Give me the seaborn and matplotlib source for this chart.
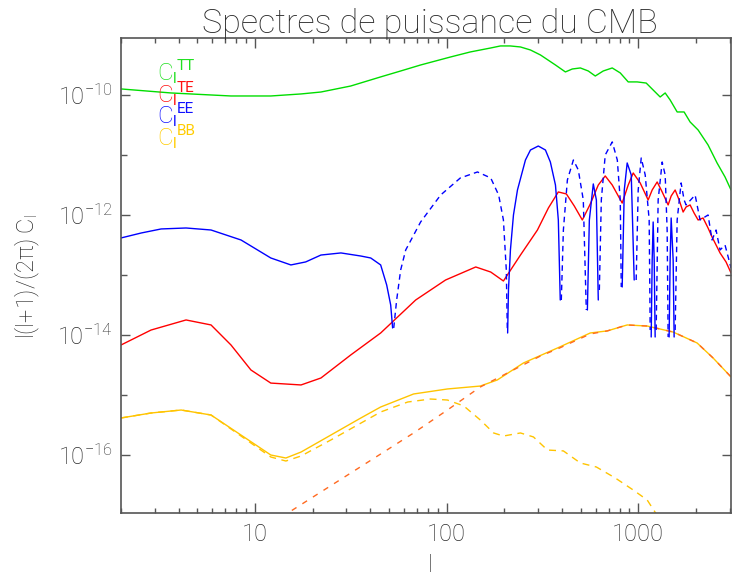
import numpy as np
import pandas as pd
import matplotlib
matplotlib.use("Agg")
import matplotlib.pyplot as plt
import seaborn as sns
from matplotlib.ticker import FixedLocator, FixedFormatter, NullFormatter

# ---------------- data ----------------
tt_l = [2, 3.65, 7.5, 12.1, 17.4, 22.1, 31.6, 45.3, 57.6, 73.2, 105, 133, 170, 191,
        215, 243, 274, 309, 370, 417, 453, 499, 549, 597, 657, 732, 806, 887, 988,
        1101, 1197, 1302, 1383, 1468, 1597, 1736, 1866, 2054, 2315, 2580, 2839, 3051]
tt_v = [1.26e-10, 1.08e-10, 9.62e-11, 9.62e-11, 1.04e-10, 1.12e-10, 1.41e-10, 2.0e-10,
        2.51e-10, 3.16e-10, 4.3e-10, 5.21e-10, 6.07e-10, 6.56e-10, 6.56e-10, 6.31e-10,
        5.62e-10, 4.64e-10, 3.16e-10, 2.42e-10, 2.71e-10, 2.82e-10, 2.51e-10, 2.07e-10,
        2.51e-10, 2.82e-10, 2.33e-10, 1.65e-10, 1.65e-10, 1.58e-10, 1.21e-10, 9.26e-11,
        1.08e-10, 8.25e-11, 5.21e-11, 5.21e-11, 3.55e-11, 2.61e-11, 1.47e-11, 7.36e-12,
        4.3e-12, 2.61e-12]

te_l = [2, 2.87, 4.37, 5.9, 7.5, 9.53, 12.1, 17.4, 22.1, 31.6, 45.3, 69.0, 98.8, 142,
        170, 198, 243, 298, 340, 383, 422, 464, 511, 562, 619, 673, 732, 825, 887, 942,
        1024, 1127, 1183, 1256, 1334, 1433, 1486, 1559, 1635, 1716, 1778, 1866, 1957,
        2054, 2181, 2315, 2429, 2674, 2873, 3051]
te_v = [6.81e-15, 1.21e-14, 1.78e-14, 1.47e-14, 6.81e-15, 2.61e-15, 1.58e-15, 1.47e-15,
        1.92e-15, 4.64e-15, 1.08e-14, 3.83e-14, 8.25e-14, 1.36e-13, 1.12e-13, 7.94e-14,
        2.15e-13, 5.62e-13, 1.31e-12, 2.42e-12, 2.24e-12, 1.41e-12, 8.25e-13, 1.52e-12,
        3.16e-12, 4.47e-12, 3.16e-12, 1.58e-12, 3.16e-12, 5.01e-12, 3.42e-12, 1.78e-12,
        2.61e-12, 3.55e-12, 2.42e-12, 1.47e-12, 2.07e-12, 2.61e-12, 1.78e-12, 1.12e-12,
        1.36e-12, 1.47e-12, 1.08e-12, 8.25e-13, 8.91e-13, 6.07e-13, 4.3e-13, 2.33e-13,
        1.65e-13, 1.08e-13]

# EE: signed values (negative parts are drawn dashed, as |value|)
ee_l = [2, 2.55, 3.24, 4.37, 5.9, 8.46, 12.1, 15.4, 18.4, 22.1, 28.1, 35.7, 40.2, 45.3, 48.7, 51.1, 52.3,
        53.0, 54.9, 57.6, 61.2, 73.2, 93.1, 118, 145, 170, 187, 198, 205, 207.5,
        208.3, 210.4, 215.4, 223.4, 234.4, 258, 274, 301, 328, 348, 370, 383, 392,
        397, 407, 427, 459, 487, 517, 536,
        543, 556, 583, 605, 619,
        627, 642, 673, 732, 778, 806, 816,
        825, 846, 876, 920, 953,
        976, 1000, 1037, 1088, 1141, 1155,
        1169, 1183, 1197, 1212, 1226,
        1241, 1271, 1334, 1383, 1416, 1433,
        1450, 1468, 1486, 1522, 1540,
        1559, 1597, 1675, 1736, 1778, 1982, 2103, 2315, 2429, 2549, 2674, 2839, 3051]
ee_v = [4.14e-13, 5.01e-13, 5.85e-13, 6.07e-13, 5.62e-13, 3.83e-13, 1.92e-13, 1.47e-13, 1.65e-13,
        2.15e-13, 2.33e-13, 2.07e-13, 1.92e-13, 1.47e-13, 6.81e-14, 3.16e-14, 1.31e-14,
        -1.31e-14, -3.83e-14, -1.21e-13, -2.61e-13, -7.64e-13, -2.15e-12, -4.14e-12, -5.21e-12,
        -4.14e-12, -2.15e-12, -8.25e-13, -1.21e-13, -1.21e-14,
        1.08e-14, 5.62e-14, 2.61e-13, 1.0e-12, 2.61e-12, 8.25e-12, 1.21e-11, 1.41e-11, 1.21e-11,
        7.64e-12, 3.16e-12, 8.25e-13, 3.83e-14,
        -3.83e-14, -5.62e-13, -3.83e-12, -8.25e-12, -5.62e-12, -1.78e-12, -2.61e-14,
        2.61e-14, 8.25e-13, 3.29e-12, 1.78e-12, 3.83e-14,
        -5.62e-14, -1.78e-12, -1.0e-11, -1.65e-11, -8.25e-12, -1.78e-12, -6.31e-14,
        6.31e-14, 2.61e-12, 7.36e-12, 4.64e-12, 8.25e-14,
        -8.25e-14, -2.61e-12, -8.91e-12, -4.64e-12, -8.25e-13, -1.21e-14,
        9.26e-15, 1.78e-13, 7.64e-13, 1.78e-13, 9.26e-15,
        -1.21e-14, -1.78e-12, -7.64e-12, -4.64e-12, -5.62e-13, -9.26e-15,
        9.26e-15, 1.78e-13, 8.91e-13, 1.78e-13, 9.26e-15,
        -1.21e-14, -8.25e-13, -3.42e-12, -1.78e-12, -1.47e-12, -2.15e-12, -8.25e-13, -1.0e-12,
        -3.83e-13, -5.62e-13, -2.61e-13, -3.16e-13, -1.31e-13]

bb_tot_l = [2, 2.87, 4.12, 5.9, 8.46, 12.1, 14.5, 17.4, 24.9, 35.7, 45.3, 67.3, 101, 150,
            184, 252, 379, 562, 690, 876, 1114, 1522, 2030, 2459, 3051]
bb_tot_v = [4.14e-16, 5.01e-16, 5.62e-16, 4.64e-16, 2.15e-16, 1.0e-16, 8.91e-17, 1.12e-16,
            2.15e-16, 4.14e-16, 6.31e-16, 1.04e-15, 1.26e-15, 1.41e-15, 1.78e-15, 3.42e-15,
            6.07e-15, 1.08e-14, 1.17e-14, 1.47e-14, 1.41e-14, 1.12e-14, 7.36e-15, 4.14e-15,
            2.0e-15]

bb_prim_l = [2, 2.87, 4.12, 5.9, 8.46, 12.1, 14.5, 17.4, 24.9, 45.3, 62.7, 82.5, 101, 123,
             150, 176, 198, 243, 284, 336, 407, 499, 605, 759, 942, 1114, 1302]
bb_prim_v = [4.14e-16, 5.01e-16, 5.62e-16, 4.64e-16, 2.07e-16, 9.26e-17, 7.94e-17, 9.62e-17,
             1.78e-16, 5.21e-16, 7.64e-16, 8.57e-16, 8.25e-16, 6.56e-16, 3.83e-16, 2.33e-16,
             2.07e-16, 2.33e-16, 2.0e-16, 1.21e-16, 1.17e-16, 7.36e-17, 6.31e-17, 4.14e-17,
             2.61e-17, 1.78e-17, 8.25e-18]

bb_lens_l = [12.1, 14.85, 47.0, 67.3, 101, 150, 223, 309, 379, 562, 690, 876, 1114, 1522,
             2030, 2459, 3051]
bb_lens_v = [7.08e-18, 1.08e-17, 1.12e-16, 2.33e-16, 5.62e-16, 1.36e-15, 2.61e-15, 4.47e-15,
             5.85e-15, 1.04e-14, 1.17e-14, 1.47e-14, 1.41e-14, 1.12e-14, 7.36e-15, 4.14e-15,
             2.0e-15]

x_major = [10, 100, 1000]
x_major_labels = ["10", "100", "1000"]
x_minor = [2, 3, 4, 5, 6, 7, 8, 9, 20, 30, 40, 50, 60, 70, 80, 90,
           200, 300, 400, 500, 600, 700, 800, 900, 2000, 3000]
y_major = [1e-16, 1e-14, 1e-12, 1e-10]
y_major_labels = [r"$10^{-16}$", r"$10^{-14}$", r"$10^{-12}$", r"$10^{-10}$"]
y_minor = [1e-15, 1e-13, 1e-11]

title = "Spectres de puissance du CMB"
xlabel = "l"
ylabel = r"l(l+1)/(2π) C$_\mathregular{l}$"
legend_names = ["TT", "TE", "EE", "BB"]
legend_colors = ["#22e022", "#ff1010", "#1010ff", "#ffcc00"]

# ---------------- style ----------------
sns.set_theme(style="ticks")
FONT = "Roboto"
plt.rcParams["font.family"] = [FONT, "DejaVu Sans"]
plt.rcParams["font.weight"] = "light"
plt.rcParams["mathtext.fontset"] = "custom"
plt.rcParams["mathtext.rm"] = FONT + ":light"
plt.rcParams["mathtext.it"] = FONT + ":light"
plt.rcParams["mathtext.bf"] = FONT + ":bold"
plt.rcParams["mathtext.sf"] = FONT + ":light"
plt.rcParams["mathtext.default"] = "regular"
TXT = "#2a2a2a"
AX = "#555555"

W, H = 732, 578
fig = plt.figure(figsize=(W / 100, H / 100), dpi=100)
fig.patch.set_facecolor("white")
L, R, T, B = 121, 731, 38, 513
ax = fig.add_axes([L / W, 1 - B / H, (R - L) / W, (B - T) / H])
ax.set_facecolor("white")
ax.set_xscale("log")
ax.set_yscale("log")

lw = 1.0
tt = pd.DataFrame({"l": tt_l, "v": tt_v})
te = pd.DataFrame({"l": te_l, "v": te_v})
ee = pd.DataFrame({"l": ee_l, "v": ee_v})
ee["neg"] = ee["v"] < 0
ee["seg"] = (ee["neg"] != ee["neg"].shift()).cumsum()
ee["a"] = ee["v"].abs()
bbt = pd.DataFrame({"l": bb_tot_l, "v": bb_tot_v})
bbp = pd.DataFrame({"l": bb_prim_l, "v": bb_prim_v})
bbl = pd.DataFrame({"l": bb_lens_l, "v": bb_lens_v})

sns.lineplot(data=tt, x="l", y="v", color="#00dd00", lw=lw, ax=ax, estimator=None, sort=False)
sns.lineplot(data=bbt, x="l", y="v", color="#ffc400", lw=lw, ax=ax, estimator=None, sort=False)
sns.lineplot(data=bbp, x="l", y="v", color="#ffc400", lw=lw, ax=ax, estimator=None, sort=False,
             linestyle=(0, (5, 4)))
sns.lineplot(data=bbl, x="l", y="v", color="#ff6a20", lw=lw, ax=ax, estimator=None, sort=False,
             linestyle=(0, (4, 5)))
sns.lineplot(data=te, x="l", y="v", color="#ff0000", lw=lw, ax=ax, estimator=None, sort=False)
sns.lineplot(data=ee[~ee["neg"]], x="l", y="a", units="seg", color="#0000ff", lw=lw, ax=ax,
             estimator=None, sort=False)
sns.lineplot(data=ee[ee["neg"]], x="l", y="a", units="seg", color="#0000ff", lw=lw, ax=ax,
             estimator=None, sort=False, linestyle=(0, (4, 3)))

ax.set_xlim(2, 3050)
ax.set_ylim(1.08e-17, 8.9e-10)

ax.xaxis.set_major_locator(FixedLocator(x_major))
ax.xaxis.set_major_formatter(FixedFormatter(x_major_labels))
ax.xaxis.set_minor_locator(FixedLocator(x_minor))
ax.xaxis.set_minor_formatter(NullFormatter())
ax.yaxis.set_major_locator(FixedLocator(y_major))
ax.yaxis.set_major_formatter(FixedFormatter(y_major_labels))
ax.yaxis.set_minor_locator(FixedLocator(y_minor))
ax.yaxis.set_minor_formatter(NullFormatter())

ax.tick_params(which="both", direction="in", top=True, right=True, color=AX, width=1.0,
               labelcolor=TXT, labelsize=17)
ax.tick_params(axis="x", which="major", length=7.2, pad=7)
ax.tick_params(axis="x", which="minor", length=3.6)
ax.tick_params(axis="y", which="major", length=6.5, pad=6)
ax.tick_params(axis="y", which="minor", length=4.5)
for s in ax.spines.values():
    s.set_color(AX)
    s.set_linewidth(1.2)

ax.set_xlabel("")
ax.set_ylabel("")
fig.text(430 / W, 1 - 566 / H, xlabel, ha="center", va="center", fontsize=17, color=TXT)
fig.text(27 / W, 1 - 276 / H, ylabel, ha="center", va="center", rotation=90, fontsize=17,
         color=TXT)
fig.text(430 / W, 1 - 33 / H, title, ha="center", va="baseline", fontsize=24.5, color=TXT)

# stacked legend labels (C, subscript l, superscript name)
for i, (name, col) in enumerate(zip(legend_names, legend_colors)):
    base = 80 + 21.7 * i
    fig.text(157 / W, 1 - base / H, "C", ha="left", va="baseline", fontsize=17.5,
             color=col, fontweight="light")
    fig.text(172.5 / W, 1 - (base + 3) / H, "l", ha="left", va="baseline", fontsize=11,
             color=col, fontweight="normal")
    fig.text(177 / W, 1 - (base - 10) / H, name, ha="left", va="baseline", fontsize=11,
             color=col, fontweight="normal")

fig.savefig("out.png", dpi=100, facecolor="white")
